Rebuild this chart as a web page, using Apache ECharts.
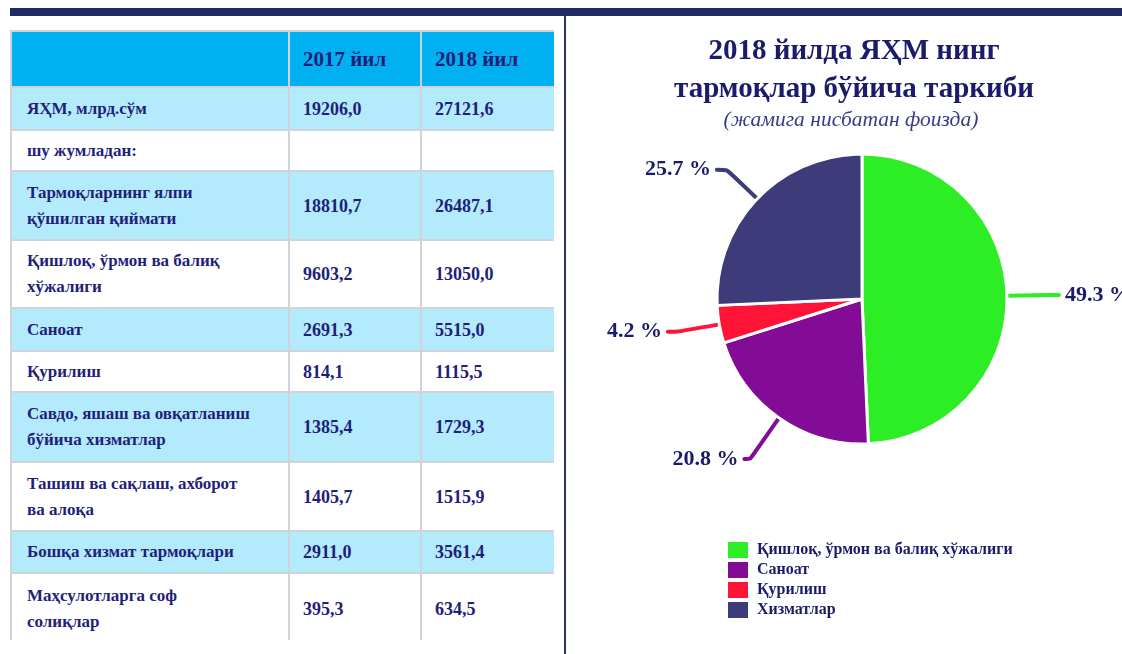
<!DOCTYPE html>
<html>
<head>
<meta charset="utf-8">
<script src="https://cdn.jsdelivr.net/npm/echarts@6/dist/echarts.min.js"></script>
<style>
  html, body { margin: 0; padding: 0; background: #fff; }
  body { width: 1122px; height: 654px; position: relative; overflow: hidden;
         font-family: "Liberation Serif", "Times New Roman", serif; }
  #topBar { position: absolute; left: 10px; top: 8px; width: 1112px; height: 8px; background: #1f2a63; }
  #vLine { position: absolute; left: 564px; top: 16px; width: 2px; height: 638px; background: #2a3370; }
  #tableBox { position: absolute; left: 10px; top: 30px; width: 544px; height: 610px; overflow: hidden; }
  table { border-collapse: collapse; width: 544px; table-layout: fixed; }
  td { border: 2px solid #cfd3da; color: #1f1f7a; font-weight: bold; font-size: 18px;
       line-height: 26px; padding: 0 0 0 13px; vertical-align: middle; white-space: nowrap; }
  td.lbl { padding-left: 15px; font-size: 17px; }
  tr.head td { background: #00b0f0; font-size: 21px; height: 54px; }
  tr.alt td { background: #b3eafc; }
  #chart { position: absolute; left: 566px; top: 16px; width: 640px; height: 638px; }
</style>
</head>
<body>
<div id="topBar"></div>
<div id="vLine"></div>
<div id="tableBox"><table id="tbl"></table></div>
<div id="chart"></div>
<script>
// жадвал маълумотлари
const yearHeaders = ['2017 йил', '2018 йил'];
const rowLabels = [
  'ЯҲМ, млрд.сўм',
  'шу жумладан:',
  'Тармоқларнинг ялпи<br>қўшилган қиймати',
  'Қишлоқ, ўрмон ва балиқ<br>хўжалиги',
  'Саноат',
  'Қурилиш',
  'Савдо, яшаш ва овқатланиш<br>бўйича хизматлар',
  'Ташиш ва сақлаш, ахборот<br>ва алоқа',
  'Бошқа хизмат тармоқлари',
  'Маҳсулотларга соф<br>солиқлар'
];
const values2017 = ['19206,0', '', '18810,7', '9603,2', '2691,3', '814,1', '1385,4', '1405,7', '2911,0', '395,3'];
const values2018 = ['27121,6', '', '26487,1', '13050,0', '5515,0', '1115,5', '1729,3', '1515,9', '3561,4', '634,5'];
const rowHeights = [43, 41, 69, 68, 43, 41, 70, 69, 42, 72];

// доиравий диаграмма
const sectorNames = ['Қишлоқ, ўрмон ва балиқ хўжалиги', 'Саноат', 'Қурилиш', 'Хизматлар'];
const sectorShares = [49.3, 20.8, 4.2, 25.7];
const sectorColors = ['#2ded25', '#820c95', '#ff1438', '#3d3b79'];

function buildTable(){
  let html = '<colgroup><col style="width:278px"><col style="width:132px"><col style="width:134px"></colgroup>';
  html += '<tr class="head"><td></td><td>' + yearHeaders[0] + '</td><td>' + yearHeaders[1] + '</td></tr>';
  for(let i = 0; i < rowLabels.length; i++){
    let cls = (i % 2 == 0) ? 'alt' : '';
    html += '<tr class="' + cls + '" style="height:' + rowHeights[i] + 'px"><td class="lbl">' + rowLabels[i] + '</td><td>' +
      values2017[i] + '</td><td>' + values2018[i] + '</td></tr>';
  }
  document.getElementById('tbl').innerHTML = html;
}
buildTable();

const FONT = '"Liberation Serif", "Times New Roman", serif';
const TEXT_COLOR = '#1b1b6b';

let myChart = echarts.init(document.getElementById('chart'));
let pieData = sectorNames.map(function(n, i){ return { name: n, value: sectorShares[i] }; });
pieData[1].labelLine = { length: 50, length2: 6 };//Саноат - пастга узунроқ чизиқ

let option = {
  animation: false,
  title: [{
    text: '2018 йилда ЯҲМ нинг\nтармоқлар бўйича таркиби',
    left: 283, top: 12, textAlign: 'center',
    textStyle: { fontFamily: FONT, fontSize: 29, fontWeight: 'bold', color: TEXT_COLOR, lineHeight: 38 }
  }, {
    text: '(жамига нисбатан фоизда)',
    left: 280, top: 88, textAlign: 'center',
    textStyle: { fontFamily: FONT, fontSize: 21.5, fontStyle: 'italic', fontWeight: 'normal', color: '#3a3a88' }
  }],
  legend: {
    orient: 'vertical',
    left: 160, top: 524,
    padding: 0,
    icon: 'rect',
    itemWidth: 22, itemHeight: 18, itemGap: 0,
    data: sectorNames,
    textStyle: { fontFamily: FONT, fontSize: 16, fontWeight: 'bold', color: TEXT_COLOR, lineHeight: 18, padding: [0, 0, 0, 3] }
  },
  series: [{
    type: 'pie',
    center: [296, 283],
    radius: 145,
    startAngle: 90,
    clockwise: true,
    color: sectorColors,
    itemStyle: { borderColor: '#fff', borderWidth: 3 },
    label: {
      show: true,
      formatter: function(p){ return p.value + ' %'; },
      fontFamily: FONT, fontSize: 22, fontWeight: 'bold', color: TEXT_COLOR,
      distanceToLabelLine: 6
    },
    labelLine: {
      show: true, length: 42, length2: 10, smooth: 0.2,
      lineStyle: { width: 4, cap: 'round' }
    },
    data: pieData
  }]
};
myChart.setOption(option);
</script>
</body>
</html>
